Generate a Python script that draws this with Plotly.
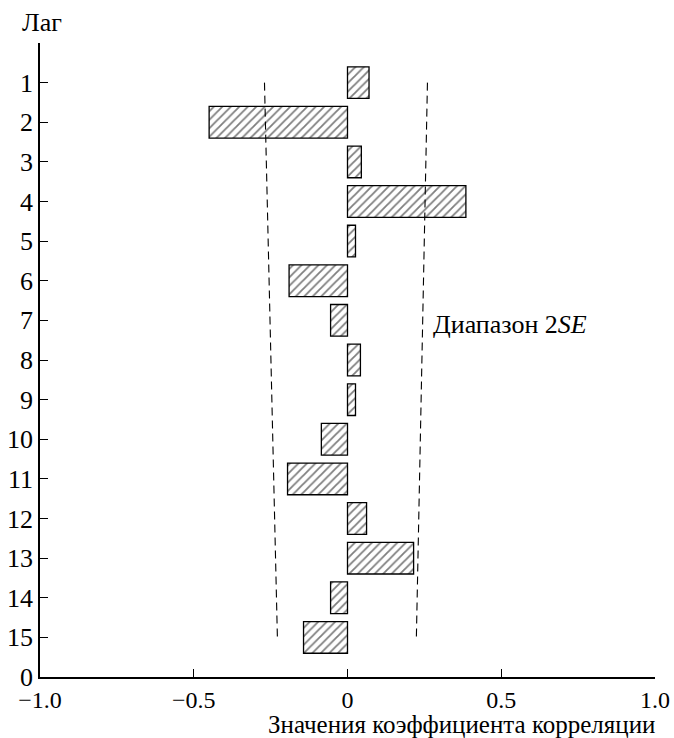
import plotly.graph_objects as go

lags = list(range(1, 16))
acf = [0.07, -0.45, 0.045, 0.385, 0.026, -0.19, -0.055, 0.042, 0.026, -0.085,
       -0.195, 0.062, 0.215, -0.055, -0.143]
se_lags = [1, 15]
se_upper = [0.26, 0.224]
se_lower = [-0.27, -0.228]
x_ticks = [-1.0, -0.5, 0, 0.5, 1.0]
x_ticktext = ["\u22121.0", "\u22120.5", "0", "0.5", "1.0"]

FONT = "Liberation Serif, Times New Roman, serif"
FS = 26

fig = go.Figure()
fig.add_trace(go.Bar(
    x=acf, y=lags, orientation="h", width=0.8,
    marker=dict(color="white", line=dict(color="black", width=1.3),
                pattern=dict(shape="/", fgcolor="black", bgcolor="white",
                             size=6, solidity=0.3)),
    showlegend=False, hoverinfo="skip"))
for xs in (se_lower, se_upper):
    fig.add_trace(go.Scatter(
        x=xs, y=se_lags, mode="lines",
        line=dict(color="black", width=1.1, dash="8px,5px"),
        showlegend=False, hoverinfo="skip"))

fig.update_layout(
    width=674, height=738,
    margin=dict(l=40, r=19, t=43, b=61),
    paper_bgcolor="white", plot_bgcolor="white",
    font=dict(family=FONT, size=FS, color="black"),
    xaxis=dict(range=[-1.0, 1.0], tickvals=x_ticks, ticktext=x_ticktext,
               ticks="inside", ticklen=8, tickwidth=1.2, tickcolor="black",
               showline=True, linecolor="black", linewidth=1.5,
               showgrid=False, zeroline=False, automargin=False,
               tickfont=dict(family=FONT, size=24)),
    yaxis=dict(range=[16, 0], tickvals=lags + [16, 0],
               ticktext=[str(v) for v in lags] + ["0", ""],
               ticks="inside", ticklen=8, tickwidth=1.2, tickcolor="black",
               showline=True, linecolor="black", linewidth=1.5,
               showgrid=False, zeroline=False, automargin=False,
               tickfont=dict(family=FONT, size=FS)),
    annotations=[
        dict(text="Лаг", xref="paper", yref="paper", x=0, y=1, xshift=-20,
             yshift=21, xanchor="left", yanchor="middle", showarrow=False,
             font=dict(family=FONT, size=FS)),
        dict(text="Значения коэффициента корреляции", xref="paper", yref="paper",
             x=1, y=0, xshift=2, yshift=-47, xanchor="right", yanchor="middle",
             showarrow=False, font=dict(family=FONT, size=25)),
        dict(text="Диапазон 2<i>SE</i>", xref="x", yref="y", x=0.27, y=7.1,
             xanchor="left", yanchor="middle", showarrow=False,
             font=dict(family=FONT, size=FS)),
    ],
)

fig.write_html("out.html", config={"displayModeBar": False},
               post_script="document.body.style.margin='0';"
                           "document.body.style.overflow='hidden';")
